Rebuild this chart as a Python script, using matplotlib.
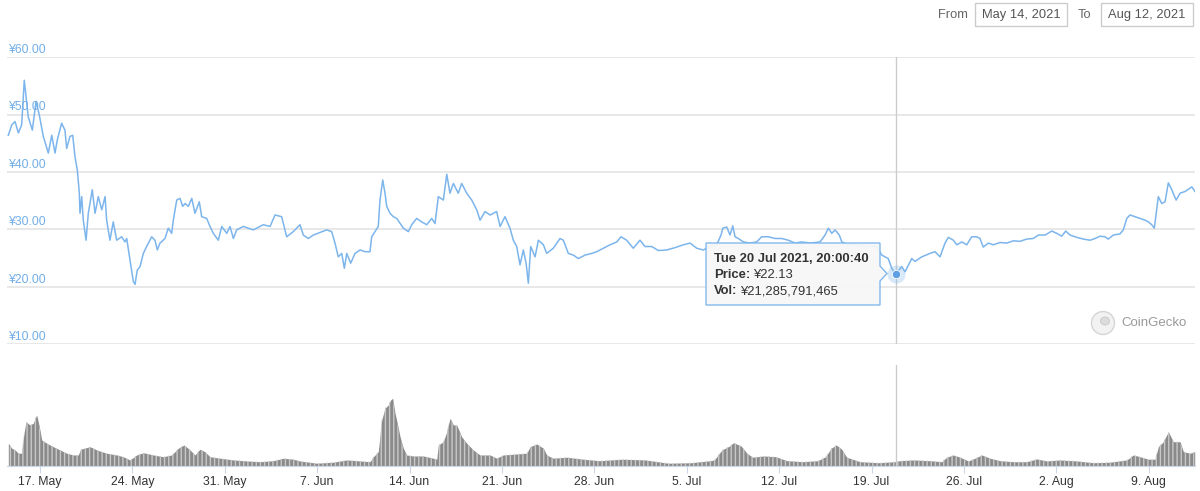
import matplotlib
matplotlib.use("Agg")
import matplotlib.pyplot as plt
import matplotlib.dates as mdates
import matplotlib.patches as patches
import matplotlib.ticker as mticker
import pandas as pd

plt.rcParams['font.family'] = ['Liberation Sans', 'DejaVu Sans']

# price: days since 14 May 2021 and price in yen
price_day = [0.60, 0.86, 1.11, 1.36, 1.61, 1.81, 2.11, 2.42, 2.70, 2.95,
             3.25, 3.63, 3.89, 4.14, 4.31, 4.64, 4.89, 5.02, 5.27, 5.48,
             5.65, 5.83, 5.98, 6.03, 6.16, 6.28, 6.49, 6.66, 6.96, 7.17,
             7.42, 7.68, 7.93, 8.05, 8.30, 8.55, 8.81, 9.19, 9.44, 9.57,
             9.82, 10.07, 10.20, 10.37, 10.58, 10.83, 11.08, 11.46, 11.71, 11.89,
             12.09, 12.47, 12.72, 12.98, 13.10, 13.36, 13.61, 13.81, 13.99, 14.24,
             14.50, 14.74, 15.07, 15.25, 15.63, 15.88, 16.13, 16.51, 16.77, 17.15,
             17.40, 17.65, 17.90, 18.40, 19.16, 19.92, 20.43, 20.81, 21.31, 21.69,
             22.19, 22.70, 22.95, 23.33, 23.71, 24.72, 25.10, 25.35, 25.60, 25.86,
             26.06, 26.24, 26.54, 26.87, 27.25, 27.62, 28.00, 28.13, 28.38, 28.63,
             28.76, 28.97, 29.14, 29.27, 29.52, 29.77, 30.03, 30.53, 30.91, 31.16,
             31.54, 31.92, 32.30, 32.68, 32.93, 33.18, 33.56, 33.82, 34.06, 34.32,
             34.69, 34.95, 35.33, 35.71, 36.09, 36.34, 36.72, 37.10, 37.60, 37.86,
             38.23, 38.61, 38.86, 39.12, 39.37, 39.62, 39.83, 40.00, 40.18, 40.51,
             40.76, 41.14, 41.39, 41.89, 42.40, 42.65, 43.03, 43.41, 43.79, 44.29,
             44.80, 45.18, 45.68, 46.19, 46.70, 47.02, 47.45, 47.95, 48.46, 48.84,
             49.35, 49.85, 50.48, 51.11, 51.74, 52.25, 52.76, 53.26, 53.76, 54.27,
             54.60, 54.73, 55.03, 55.28, 55.49, 55.66, 55.91, 56.29, 56.80, 57.30,
             57.68, 58.19, 58.69, 59.20, 59.70, 60.21, 60.71, 61.34, 62.10, 62.48,
             62.73, 62.99, 63.24, 63.56, 63.75, 64.24, 64.88, 65.64, 66.40, 66.78,
             67.27, 67.53, 67.83, 68.29, 68.54, 69.05, 69.30, 69.81, 70.43, 70.81,
             71.19, 71.57, 71.82, 72.20, 72.46, 72.84, 73.22, 73.59, 73.97, 74.22,
             74.47, 74.85, 75.23, 75.74, 76.25, 76.75, 77.25, 77.76, 78.26, 78.64,
             79.15, 79.66, 80.04, 80.41, 80.72, 81.04, 81.55, 82.05, 82.56, 82.94,
             83.31, 83.69, 83.94, 84.32, 84.83, 85.08, 85.34, 85.59, 85.97, 86.35,
             86.72, 86.98, 87.23, 87.43, 87.73, 87.99, 88.24, 88.49, 88.75, 89.08,
             89.38, 89.76, 90.27, 90.51]
price_val = [46.4, 48.2, 48.8, 46.8, 48.2, 56.0, 49.6, 47.3, 52.3, 49.9,
             46.2, 43.3, 46.4, 43.3, 45.6, 48.5, 47.3, 44.1, 46.2, 46.4,
             42.7, 40.3, 36.3, 32.8, 35.7, 31.6, 28.1, 32.8, 36.9, 32.8,
             35.7, 33.4, 35.7, 31.6, 28.1, 31.3, 28.1, 28.7, 27.8, 28.4,
             24.6, 20.9, 20.4, 22.9, 23.5, 25.8, 27.0, 28.7, 28.1, 26.4,
             27.6, 28.4, 30.2, 29.3, 31.6, 35.1, 35.4, 34.0, 34.5, 34.0,
             35.4, 32.8, 34.8, 32.2, 31.9, 30.5, 29.3, 28.1, 30.5, 29.3,
             30.5, 28.4, 29.9, 30.5, 29.9, 30.8, 30.5, 32.5, 32.2, 28.7,
             29.6, 30.8, 29.0, 28.4, 29.0, 29.9, 29.6, 27.6, 25.2, 25.8,
             23.2, 25.8, 24.1, 25.8, 26.4, 26.1, 26.1, 28.7, 29.6, 30.5,
             35.1, 38.6, 36.3, 34.0, 32.8, 32.2, 31.9, 30.2, 29.6, 30.8,
             31.9, 31.3, 30.8, 31.9, 31.0, 35.7, 35.1, 39.6, 36.3, 38.0,
             36.3, 38.0, 36.3, 35.1, 33.4, 31.6, 33.1, 32.5, 33.1, 30.5,
             32.2, 30.2, 28.1, 27.0, 23.8, 26.4, 24.1, 20.6, 27.0, 25.2,
             28.1, 27.3, 25.8, 26.7, 28.4, 28.1, 25.8, 25.5, 24.9, 25.5,
             25.8, 26.1, 26.7, 27.3, 27.8, 28.7, 28.1, 26.7, 28.1, 27.0,
             27.0, 26.3, 26.4, 26.8, 27.3, 27.6, 26.7, 26.4, 27.0, 27.3,
             29.0, 30.2, 30.4, 29.0, 30.6, 28.7, 28.4, 27.8, 27.6, 27.8,
             28.7, 28.7, 28.4, 28.4, 28.1, 27.6, 27.8, 27.6, 27.8, 29.0,
             30.2, 29.3, 29.9, 29.0, 27.8, 27.3, 27.3, 27.0, 27.0, 25.5,
             24.9, 23.2, 22.13, 23.5, 22.6, 24.9, 24.4, 25.2, 25.8, 26.1,
             25.2, 27.6, 28.6, 28.1, 27.3, 27.8, 27.3, 28.7, 28.7, 28.4,
             26.9, 27.6, 27.3, 27.7, 27.6, 28.0, 27.9, 28.3, 28.4, 29.0,
             29.0, 29.7, 29.3, 28.8, 29.7, 29.0, 28.6, 28.3, 28.1, 28.4,
             28.8, 28.7, 28.3, 29.0, 29.2, 29.9, 31.9, 32.5, 32.2, 31.9,
             31.6, 31.3, 30.8, 30.2, 35.7, 34.5, 34.8, 38.1, 36.9, 35.1,
             36.3, 36.6, 37.4, 36.6]

# volume, billions of yen
vol_day = [0.60, 0.86, 1.11, 1.36, 1.61, 1.79, 1.94, 2.24, 2.49, 2.75,
           2.95, 3.13, 3.51, 4.01, 4.52, 5.02, 5.52, 5.90, 6.08, 6.79,
           7.30, 8.05, 8.81, 9.31, 9.82, 10.33, 10.83, 11.59, 12.34, 12.98,
           13.48, 13.91, 14.37, 14.74, 15.12, 15.50, 15.88, 16.64, 17.65, 18.66,
           19.67, 20.68, 21.44, 22.19, 22.70, 23.97, 25.22, 26.24, 27.25, 28.00,
           28.26, 28.63, 28.89, 29.14, 29.39, 29.57, 29.72, 29.90, 30.07, 30.28,
           30.53, 30.78, 31.28, 32.04, 32.80, 33.06, 33.18, 33.56, 33.82, 34.07,
           34.32, 34.57, 34.95, 35.33, 35.83, 36.34, 37.10, 37.60, 38.10, 39.12,
           39.88, 40.13, 40.64, 41.14, 41.39, 41.89, 42.91, 44.17, 45.38, 47.12,
           48.86, 50.61, 52.35, 53.80, 54.09, 54.67, 55.25, 55.55, 56.12, 56.56,
           56.99, 57.86, 58.74, 59.61, 60.77, 61.93, 62.52, 62.95, 63.33, 63.74,
           64.12, 65.13, 66.58, 67.75, 68.16, 69.17, 70.43, 71.32, 71.70, 72.20,
           72.71, 73.34, 73.84, 74.35, 74.98, 75.74, 76.75, 77.76, 78.52, 79.28,
           80.28, 81.55, 82.81, 84.07, 85.34, 85.84, 86.35, 86.98, 87.49, 87.73,
           88.11, 88.49, 88.87, 89.38, 89.63, 90.14, 90.49]
vol_val = [91, 71, 64, 51, 51, 131, 177, 164, 171, 204,
           157, 104, 91, 77, 64, 51, 44, 44, 67, 77,
           64, 51, 44, 37, 24, 44, 53, 44, 37, 44,
           71, 84, 64, 44, 67, 57, 37, 31, 24, 20,
           17, 21, 31, 27, 20, 11, 15, 24, 20, 17,
           37, 57, 184, 231, 244, 264, 271, 211, 171, 117,
           71, 44, 40, 40, 31, 27, 84, 97, 137, 191,
           164, 164, 117, 91, 64, 44, 44, 31, 44, 48,
           51, 77, 88, 71, 44, 31, 35, 27, 21, 27,
           24, 11, 13, 21, 24, 64, 80, 93, 80, 51,
           35, 40, 37, 21, 17, 21, 37, 71, 84, 67,
           35, 17, 13, 17, 21, 24, 21, 17, 35, 44,
           35, 20, 31, 44, 31, 21, 17, 17, 28, 20,
           24, 20, 13, 15, 24, 44, 37, 27, 27, 77,
           97, 137, 97, 97, 57, 51, 57]

price_grid = [10, 20, 30, 40, 50, 60]
range_from = "May 14, 2021"
range_to = "Aug 12, 2021"

hover_time = pd.Timestamp("2021-07-20 20:00:40")
hover_price = 22.13
hover_vol = 21285791465

start = pd.Timestamp("2021-05-14")
price_t = start + pd.to_timedelta(price_day, unit="D")
vol_t = start + pd.to_timedelta(vol_day, unit="D")

W, H = 1200, 491


def fx(x):
    return x / W


def fy(y):
    return 1 - y / H


fig = plt.figure(figsize=(12, 4.91), dpi=100)
ax = fig.add_axes([fx(7), fy(344), (1195 - 7) / W, (344 - 57.3) / H])
axv = fig.add_axes([fx(7), fy(466), (1195 - 7) / W, (466 - 365) / H], sharex=ax)

# price panel
ax.plot(price_t, price_val, color="#7cb5ec", lw=1.1, zorder=3)
ax.set_ylim(10, 60)
ax.set_yticks(price_grid)
ax.grid(axis="y", color="#e6e6e6", lw=1.3)
ax.set_axisbelow(True)
ax.tick_params(left=False, bottom=False, labelleft=False, labelbottom=False)
for s in ax.spines.values():
    s.set_visible(False)
for v in price_grid:
    ax.text(0.001, v + 0.2, f"¥{v:.2f}", transform=ax.get_yaxis_transform(),
            color="#72aee8", fontsize=8.8, va="bottom", ha="left")

ax.set_xlim(start + pd.Timedelta(days=0.5), start + pd.Timedelta(days=90.51))

# crosshair and hovered point
ax.axvline(hover_time, color="#cccccc", lw=1, zorder=2)
axv.axvline(hover_time, color="#cccccc", lw=1, zorder=4)
ax.plot(hover_time, hover_price, "o", ms=13, color="#7cb5ec", alpha=0.3, mec="none", zorder=4)
ax.plot(hover_time, hover_price, "o", ms=6, color="#5f9fe3", mec="white", mew=0.6, zorder=5)

# volume panel
axv.fill_between(vol_t, vol_val, color="#8a8a8a", lw=0, zorder=2)
axv.fill_between(vol_t, vol_val, facecolor="none", edgecolor="#c8c8c8", hatch="||||", lw=0, zorder=3)
axv.set_ylim(0, 404)
axv.set_yticks([])
for k in ["left", "right", "top"]:
    axv.spines[k].set_visible(False)
axv.spines["bottom"].set_color("#ccd6eb")
axv.xaxis.set_major_locator(mdates.WeekdayLocator(byweekday=mdates.MO))
axv.xaxis.set_major_formatter(mticker.FuncFormatter(
    lambda v, p: f"{mdates.num2date(v).day}. {mdates.num2date(v).strftime('%b')}"))
axv.tick_params(axis="x", length=5, color="#ccd6eb", labelcolor="#333333",
                labelsize=8.8, pad=2)

# tooltip
tip = patches.Polygon([(fx(706), fy(243)), (fx(880), fy(243)), (fx(880), fy(266)),
                       (fx(887), fy(273.5)), (fx(880), fy(281)), (fx(880), fy(305)),
                       (fx(706), fy(305))], closed=True, transform=fig.transFigure,
                      facecolor="#f7f7f7", edgecolor="#7cb5ec", lw=1, alpha=0.95, zorder=10)
fig.add_artist(tip)
fig.text(fx(714), fy(259.5), hover_time.strftime("%a %d %b %Y, %H:%M:%S"),
         weight="bold", fontsize=9.4, color="#333333", va="center", zorder=11)
renderer = fig.canvas.get_renderer()
for y, lab, val in [(275.5, "Price:", f"¥{hover_price:.2f}"),
                    (291.5, "Vol:", f"¥{hover_vol:,}")]:
    t = fig.text(fx(714), fy(y), lab, weight="bold", fontsize=9.4,
                 color="#333333", va="center", zorder=11)
    x1 = t.get_window_extent(renderer).x1
    fig.text(x1 / W + fx(3), fy(y), val, fontsize=9.4, color="#333333",
             va="center", zorder=11)

# date range inputs
fig.text(fx(953), fy(15), "From", fontsize=9.3, color="#666666", ha="center", va="center")
fig.text(fx(1084), fy(15), "To", fontsize=9.3, color="#666666", ha="center", va="center")
for x0, x1, lab in [(975, 1067, range_from), (1101, 1193, range_to)]:
    fig.add_artist(patches.Rectangle((fx(x0), fy(26)), (x1 - x0) / W, 23 / H,
                                     transform=fig.transFigure, facecolor="white",
                                     edgecolor="#cccccc", lw=1))
    fig.text(fx((x0 + x1) / 2), fy(15), lab, fontsize=9.3, color="#555555",
             ha="center", va="center")

# CoinGecko watermark
fig.add_artist(patches.Ellipse((fx(1103), fy(323)), 23 / W, 23 / H, transform=fig.transFigure,
                               facecolor="#f2f2f2", edgecolor="#d5d5d5", lw=1))
fig.add_artist(patches.Ellipse((fx(1105), fy(321)), 9 / W, 8 / H, transform=fig.transFigure,
                               facecolor="#dcdcdc", edgecolor="#c8c8c8", lw=0.6))
fig.text(fx(1121), fy(323), "CoinGecko", fontsize=9.5, color="#9a9a9a", va="center")

fig.savefig("out.png", dpi=100)
